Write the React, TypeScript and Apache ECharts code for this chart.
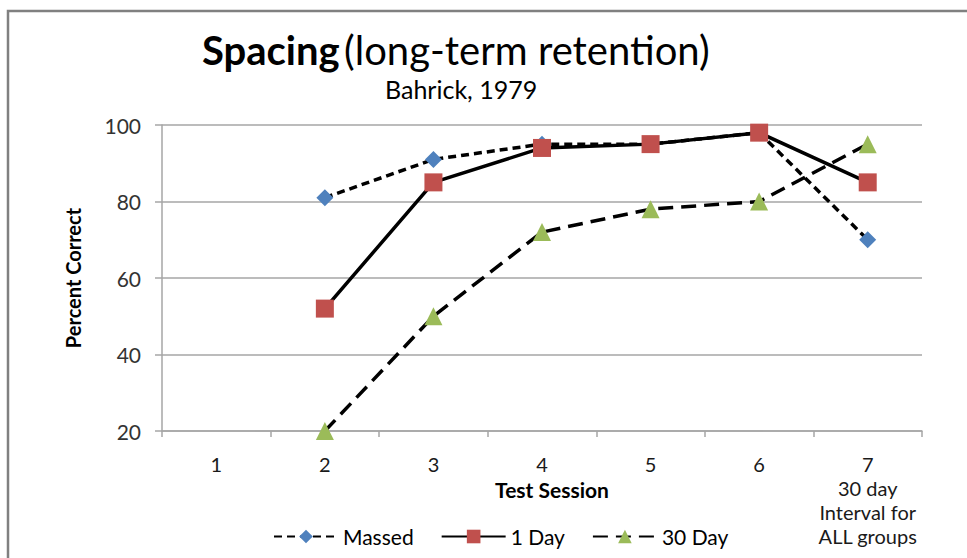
import React, { useEffect, useRef } from "react";
import * as echarts from "echarts";

const categories = ["1", "2", "3", "4", "5", "6", "7\n30 day\nInterval for\nALL groups"];
const massed = [null, 81, 91, 95, 95, 98, 70];
const oneDay = [null, 52, 85, 94, 95, 98, 85];
const thirtyDay = [null, 20, 50, 72, 78, 80, 95];
const seriesNames = ["Massed", "1 Day", "30 Day"];
const yTicks = { min: 20, max: 100, interval: 20 };

const FONT = "Lato, 'Noto Sans', sans-serif";

export default function App() {
  const ref = useRef<HTMLDivElement>(null);
  useEffect(() => {
    if (!ref.current) return;
    const chart = echarts.init(ref.current, null, { renderer: "svg" });
    chart.setOption({
      animation: false,
      backgroundColor: "#ffffff",
      textStyle: { fontFamily: FONT },
      title: [
        {
          text: "{b|Spacing} {n|(long-term retention)}",
          left: 197,
          top: 25,
          textStyle: {
            rich: {
              b: { fontFamily: FONT, fontSize: 40, fontWeight: "bold", color: "#000" },
              n: { fontFamily: FONT, fontSize: 40, fontWeight: "normal", color: "#000" },
            },
          },
        },
        {
          text: "Bahrick, 1979",
          left: 380,
          top: 71,
          textStyle: { fontFamily: FONT, fontSize: 25, fontWeight: "normal", color: "#000" },
        },
      ],
      graphic: [
        {
          type: "rect",
          shape: { x: 8, y: 11, width: 1200, height: 800 },
          style: { fill: "none", stroke: "#808080", lineWidth: 2.5 },
          silent: true,
        },
      ],
      grid: { left: 162, right: 45, top: 125, bottom: 127, containLabel: false, outerBoundsMode: "none" },
      legend: {
        left: 268,
        top: 521,
        itemWidth: 64,
        itemHeight: 17,
        itemGap: 27,
        data: seriesNames,
        textStyle: { fontFamily: FONT, fontSize: 21, color: "#000" },
      },
      xAxis: {
        type: "category",
        data: categories,
        boundaryGap: true,
        axisLine: { show: true, lineStyle: { color: "#a6a6a6", width: 1.5 } },
        axisTick: { show: true, length: 6, interval: 0, lineStyle: { color: "#a6a6a6", width: 1.5 } },
        axisLabel: { fontFamily: FONT, fontSize: 20, color: "#1a1a1a", lineHeight: 24, margin: 21, interval: 0 },
        name: "Test Session",
        nameLocation: "middle",
        nameGap: 48,
        nameMoveOverlap: false,
        nameTextStyle: { fontFamily: FONT, fontSize: 21, fontWeight: "bold", color: "#000", padding: [0, 0, 0, 20] },
        splitLine: { show: false },
      },
      yAxis: {
        type: "value",
        min: yTicks.min,
        max: yTicks.max,
        interval: yTicks.interval,
        axisLine: { show: true, lineStyle: { color: "#a6a6a6", width: 1.5 } },
        axisTick: { show: true, length: 7, lineStyle: { color: "#a6a6a6", width: 1.5 } },
        axisLabel: { fontFamily: FONT, fontSize: 21, color: "#333", margin: 21 },
        splitLine: { show: true, lineStyle: { color: "#a6a6a6", width: 1.5 } },
        name: "Percent Correct",
        nameLocation: "middle",
        nameRotate: 90,
        nameGap: 79,
        nameMoveOverlap: false,
        nameTextStyle: { fontFamily: FONT, fontSize: 20, fontWeight: "bold", color: "#000" },
      },
      series: [
        {
          name: seriesNames[0],
          type: "line",
          data: massed,
          symbol: "diamond",
          symbolSize: 17,
          itemStyle: { color: "#4F81BD" },
          lineStyle: { color: "#000", width: 3.5, type: [8, 5] },
          z: 2,
        },
        {
          name: seriesNames[1],
          type: "line",
          data: oneDay,
          symbol: "rect",
          symbolSize: 18,
          itemStyle: { color: "#C0504D" },
          lineStyle: { color: "#000", width: 3.5, type: "solid" },
          z: 3,
        },
        {
          name: seriesNames[2],
          type: "line",
          data: thirtyDay,
          symbol: "triangle",
          symbolSize: 18,
          itemStyle: { color: "#9BBB59" },
          lineStyle: { color: "#000", width: 3.5, type: [15, 8] },
          z: 4,
        },
      ],
    });
    return () => chart.dispose();
  }, []);
  return (
    <div
      ref={ref}
      style={{ position: "fixed", left: 0, top: 0, width: 967, height: 558, background: "#fff" }}
    />
  );
}
